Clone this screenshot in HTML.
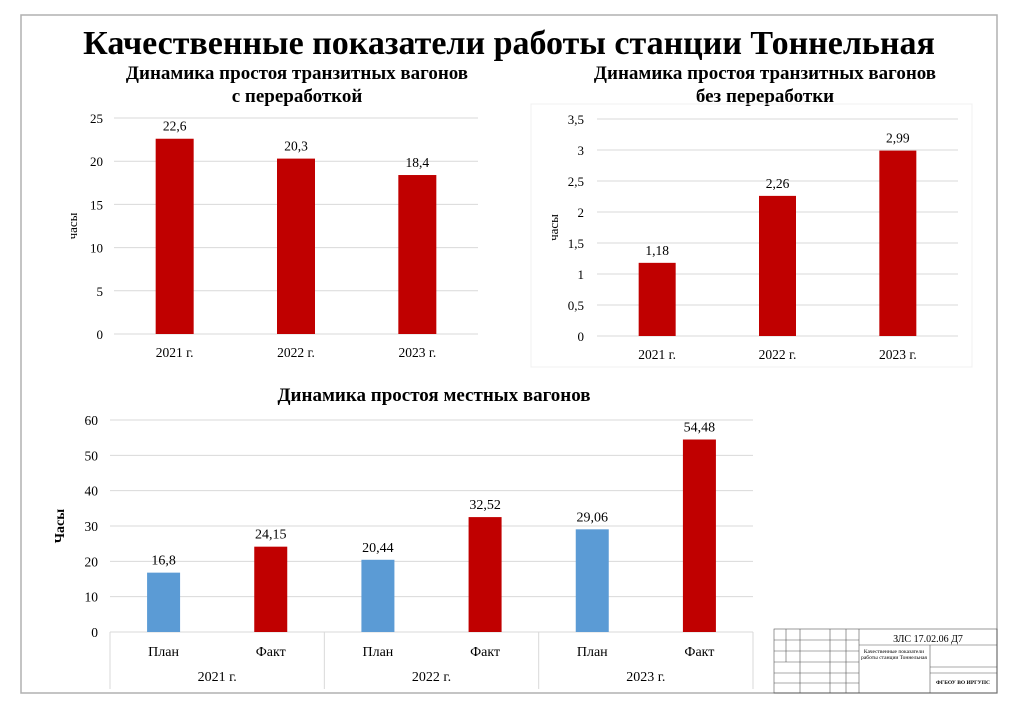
<!DOCTYPE html>
<html><head><meta charset="utf-8"><style>
html,body{margin:0;padding:0;background:#fff;}
svg{display:block;font-family:"Liberation Serif","Noto Serif CJK SC",serif;}
</style></head><body>
<svg id="s" width="1024" height="723" viewBox="0 0 1024 723" xmlns="http://www.w3.org/2000/svg">
<rect x="21" y="15" width="976" height="678" fill="none" stroke="#b0b0b0" stroke-width="1.5"/>
<text x="509" y="54" text-anchor="middle" font-size="34" font-weight="bold">Качественные показатели работы станции Тоннельная</text>
<text x="297" y="79" text-anchor="middle" font-size="19" font-weight="bold">Динамика простоя транзитных вагонов</text>
<text x="297" y="102" text-anchor="middle" font-size="19" font-weight="bold">с переработкой</text>
<text x="765" y="79" text-anchor="middle" font-size="19" font-weight="bold">Динамика простоя транзитных вагонов</text>
<text x="765" y="102" text-anchor="middle" font-size="19" font-weight="bold">без переработки</text>
<rect x="531" y="104" width="441" height="263" fill="none" stroke="#f0f0f0"/>
<text x="434" y="401" text-anchor="middle" font-size="19" font-weight="bold">Динамика простоя местных вагонов</text>
<g id="c1"></g>
<g id="c2"></g>
<g id="c3"></g>
<g stroke="#555" stroke-width="0.6" fill="none" font-size="5">
<rect x="774" y="629" width="223" height="64"/>
<line x1="859" y1="629" x2="859" y2="693"/>
<line x1="859" y1="645" x2="997" y2="645"/>
<line x1="930" y1="645" x2="930" y2="693"/>
<line x1="930" y1="667" x2="997" y2="667"/>
<line x1="930" y1="673" x2="997" y2="673"/>
<line x1="774" y1="640" x2="859" y2="640"/><line x1="774" y1="651" x2="859" y2="651"/>
<line x1="774" y1="662" x2="859" y2="662"/><line x1="774" y1="673" x2="859" y2="673"/>
<line x1="774" y1="683" x2="859" y2="683"/>
<line x1="786" y1="629" x2="786" y2="662"/><line x1="800" y1="629" x2="800" y2="693"/>
<line x1="830" y1="629" x2="830" y2="693"/><line x1="846" y1="629" x2="846" y2="693"/>
</g>
<text x="928" y="642" text-anchor="middle" font-size="10">ЗЛС 17.02.06 Д7</text>
<text x="894" y="653" text-anchor="middle" font-size="5.5">Качественные показатели</text>
<text x="894" y="659" text-anchor="middle" font-size="5.5">работы станции Тоннельная</text>
<text x="963" y="684" text-anchor="middle" font-size="5.5" font-weight="bold">ФГБОУ ВО ИРГУПС</text>
</svg>
<script>
const c1Categories = ["2021 г.", "2022 г.", "2023 г."];
const c1Values = [22.6, 20.3, 18.4];
const c1Labels = ["22,6", "20,3", "18,4"];
const c1Ticks = [0, 5, 10, 15, 20, 25];
const c2Categories = ["2021 г.", "2022 г.", "2023 г."];
const c2Values = [1.18, 2.26, 2.99];
const c2Labels = ["1,18", "2,26", "2,99"];
const c2Ticks = [0, 0.5, 1, 1.5, 2, 2.5, 3, 3.5];
const c3Years = ["2021 г.", "2022 г.", "2023 г."];
const c3Series = ["План", "Факт"];
const c3Plan = [16.8, 20.44, 29.06];
const c3Fact = [24.15, 32.52, 54.48];
const c3PlanLabels = ["16,8", "20,44", "29,06"];
const c3FactLabels = ["24,15", "32,52", "54,48"];
const c3Ticks = [0, 10, 20, 30, 40, 50, 60];

const NS = "http://www.w3.org/2000/svg";
function mk(parent, tag, attrs, text) {
  const e = document.createElementNS(NS, tag);
  for (const k in attrs) e.setAttribute(k, attrs[k]);
  if (text !== undefined) e.textContent = text;
  parent.appendChild(e);
  return e;
}
function fmt(v){return String(v).replace('.', ',');}

function simpleChart(g, cats, vals, labs, ticks, x0, x1, y0, y1, max, barW, tickX, titleX, prefix) {
  const ys = v => y0 - (v / max) * (y0 - y1);
  const band = (x1 - x0) / cats.length;
  const xs = i => x0 + band * (i + 0.5);
  ticks.forEach(t => {
    const l = mk(g, 'line', {x1: x0, x2: x1, y1: ys(t), y2: ys(t), stroke: '#d9d9d9', 'stroke-width': 1});
    
    
    const tx = mk(g, 'text', {x: tickX, y: ys(t) + 5, 'text-anchor': 'end', 'font-size': 13}, fmt(t));
    
    
  });
  cats.forEach((c, i) => {
    const r = mk(g, 'rect', {x: xs(i) - barW / 2, y: ys(vals[i]), width: barW, height: y0 - ys(vals[i]), fill: '#c00000'});
    
    
    const vl = mk(g, 'text', {x: xs(i), y: ys(vals[i]) - 8, 'text-anchor': 'middle', 'font-size': 13.5}, labs[i]);
    
    
    const cl = mk(g, 'text', {x: xs(i), y: y0 + 23, 'text-anchor': 'middle', 'font-size': 13.5}, c);
    
    
  });
  const yt = mk(g, 'text', {x: titleX, y: (y0 + y1) / 2, 'text-anchor': 'middle', 'font-size': 13, transform: `rotate(-90 ${titleX} ${(y0 + y1) / 2})`}, 'часы');
  
  
}
simpleChart(document.getElementById('c1'), c1Categories, c1Values, c1Labels, c1Ticks, 114, 478, 334, 118, 25, 38, 103, 77, 'chart1');
simpleChart(document.getElementById('c2'), c2Categories, c2Values, c2Labels, c2Ticks, 597, 958, 336, 119, 3.5, 37, 584, 558, 'chart2');

(function(){
  const g = document.getElementById('c3');
  const x0 = 110, x1 = 753, y0 = 632, y1 = 420, max = 60;
  const ys = v => y0 - (v / max) * (y0 - y1);
  const band = (x1 - x0) / c3Years.length;
  c3Ticks.forEach(t => {
    const l = mk(g, 'line', {x1: x0, x2: x1, y1: ys(t), y2: ys(t), stroke: '#d9d9d9', 'stroke-width': 1});
    
    
    const tx = mk(g, 'text', {x: 98, y: ys(t) + 5, 'text-anchor': 'end', 'font-size': 13.5}, t);
    
    
  });
  for (let i = 0; i <= c3Years.length; i++) {
    const l = mk(g, 'line', {x1: x0 + band * i, x2: x0 + band * i, y1: y0, y2: 689, stroke: '#d9d9d9', 'stroke-width': 1});
    
    
  }
  c3Years.forEach((yr, i) => {
    const sets = [[c3Plan[i], c3PlanLabels[i], '#5b9bd5'], [c3Fact[i], c3FactLabels[i], '#c00000']];
    sets.forEach((s, j) => {
      const cx = x0 + band * i + band * (j + 0.5) / 2;
      const r = mk(g, 'rect', {x: cx - 16.5, y: ys(s[0]), width: 33, height: y0 - ys(s[0]), fill: s[2]});
      
      
      const vl = mk(g, 'text', {x: cx, y: ys(s[0]) - 8, 'text-anchor': 'middle', 'font-size': 14}, s[1]);
      
      
      const sl = mk(g, 'text', {x: cx, y: 656, 'text-anchor': 'middle', 'font-size': 14}, c3Series[j]);
      
      
    });
    const yl = mk(g, 'text', {x: x0 + band * (i + 0.5), y: 681, 'text-anchor': 'middle', 'font-size': 14}, yr);
    
    
  });
  const yt = mk(g, 'text', {x: 64, y: 526, 'text-anchor': 'middle', 'font-size': 14, 'font-weight': 'bold', transform: 'rotate(-90 64 526)'}, 'Часы');
  
  
})();
</script>
</body></html>
